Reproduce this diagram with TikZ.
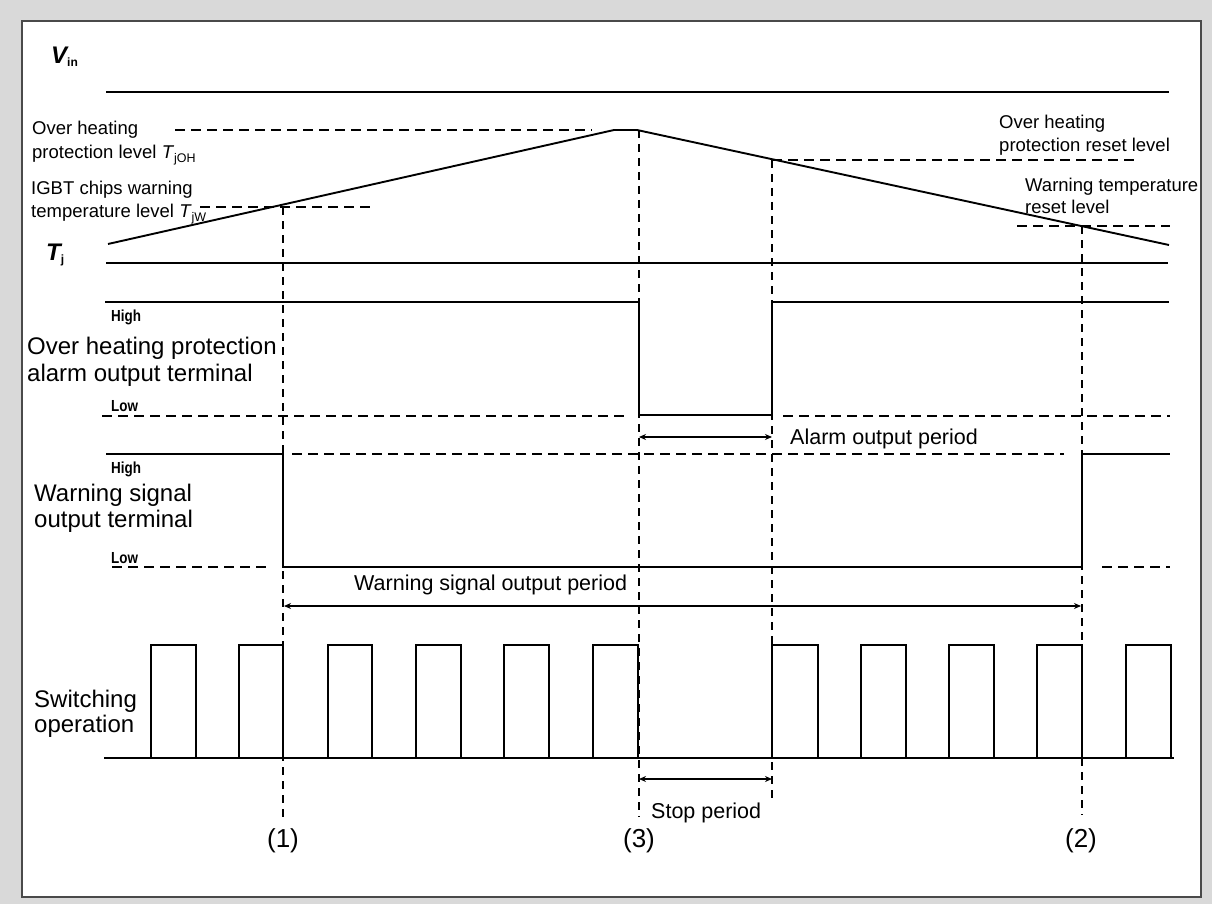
\documentclass[tikz,border=0pt]{standalone}
\usepackage{fontspec}
\usepackage{graphicx}
\setmainfont{Liberation Sans}
\usetikzlibrary{arrows.meta}
\definecolor{bggray}{HTML}{D9D9D9}
\definecolor{bordergray}{HTML}{4A4A4A}
\tikzset{
  sig/.style={line width=1.9pt, line join=miter},
  dsh/.style={line width=1.7pt, dash pattern=on 10pt off 6pt},
  vdsh/.style={line width=1.7pt, dash pattern=on 8pt off 6pt},
  dimarrow/.style={line width=1.1pt, {Stealth[length=7pt,width=6pt]}-{Stealth[length=7pt,width=6pt]}},
  txs/.style={font=\fontsize{18.5}{21}\selectfont, inner sep=0pt, anchor=base west},
  txm/.style={font=\fontsize{21.5}{25}\selectfont, inner sep=0pt, anchor=base west},
  txl/.style={font=\fontsize{24}{28}\selectfont, inner sep=0pt, anchor=base west},
  txn/.style={font=\fontsize{26}{30}\selectfont, inner sep=0pt, anchor=center},
  hl/.style={font=\bfseries\fontsize{16}{18}\selectfont, inner sep=0pt, anchor=base west},
  symlbl/.style={inner sep=0pt, anchor=base west, font=\bfseries\itshape\fontsize{24}{26}\selectfont},
}
\newcommand{\hlo}[1]{\scalebox{0.84}[1]{#1}}
\newcommand{\subtx}[1]{\raisebox{-4pt}{\fontsize{12.5}{13}\selectfont #1}}
\newcommand{\symsub}[1]{\raisebox{-3pt}{\upshape\fontsize{12}{13}\selectfont #1}}
\begin{document}
\begin{tikzpicture}[x=1pt,y=-1pt]
\useasboundingbox (0,0) rectangle (1212,904);
\fill[bggray] (0,0) rectangle (1212,904);
\draw[bordergray, line width=1.5pt, fill=white] (22,21) rectangle (1201,897);

% V_in
\node[symlbl] (vin) at (51,64) {V\symsub{in}};
\draw[sig] (106,92) -- (1169,92);

% Tj
\node[symlbl] (tj) at (46,260) {T\symsub{j}};
\draw[sig] (106,263) -- (1168,263);
\draw[sig] (108,244) -- (614,130) -- (637,130) -- (1169,245);
\draw[dsh] (175,130) -- (592,130);
\draw[dsh] (200,207) -- (372,207);
\draw[dsh] (772,160) -- (1136,160);
\draw[dsh] (1017,226) -- (1170,226);

\node[txs] (ohl1) at (32,135) {Over heating};
\node[txs] (ohl2) at (32,159) {protection level \textit{T}\subtx{jOH}};
\node[txs] (twl1) at (31,195) {IGBT chips warning};
\node[txs] (twl2) at (31,217) {temperature level \textit{T}\subtx{jW}};
\node[txs] (ohr1) at (999,129) {Over heating};
\node[txs] (ohr2) at (999,152) {protection reset level};
\node[txs] (wrr1) at (1025,192) {Warning temperature};
\node[txs] (wrr2) at (1025,214) {reset level};

% Over heating protection alarm output
\draw[sig] (105,302) -- (639,302) -- (639,415) -- (772,415) -- (772,302) -- (1169,302);
\draw[dsh] (102,416) -- (624,416);
\draw[dsh] (783,416) -- (1170,416);
\node[hl] (oh_high) at (111,321) {\hlo{High}};
\node[hl] (oh_low) at (111,411) {\hlo{Low}};
\node[txl] (ohlab1) at (27,354) {Over heating protection};
\node[txl] (ohlab2) at (27,381) {alarm output terminal};
\draw[dimarrow] (639,437) -- (772,437);
\node[txm] (alarmp) at (790,444) {Alarm output period};

% Warning signal output
\draw[sig] (106,454) -- (283,454) -- (283,567) -- (1082,567) -- (1082,454) -- (1170,454);
\draw[dsh] (292,454) -- (1064,454);
\draw[dsh] (112,567) -- (268,567);
\draw[dsh] (1102,567) -- (1170,567);
\node[hl] (w_high) at (111,473) {\hlo{High}};
\node[hl] (w_low) at (111,563) {\hlo{Low}};
\node[txl] (wlab1) at (34,501) {Warning signal};
\node[txl] (wlab2) at (34,527) {output terminal};
\draw[dimarrow] (284,606) -- (1081,606);
\node[txm] (warnp) at (354,590) {Warning signal output period};

% Switching operation
\draw[sig] (104,758) -- (1174,758);
\foreach \l/\r in {151/196, 239/283, 328/372, 416/461, 504/549, 593/638, 772/818, 861/906, 949/994, 1037/1082, 1126/1171}{
  \draw[sig] (\l,758) -- (\l,645) -- (\r,645) -- (\r,758);
}
\node[txl] (sw1) at (34,707) {Switching};
\node[txl] (sw2) at (34,732) {operation};
\draw[dimarrow] (639,779) -- (772,779);
\node[txm] (stopp) at (651,818) {Stop period};

% vertical markers
\draw[vdsh] (283,207) -- (283,822);
\draw[vdsh] (639,130) -- (639,817);
\draw[vdsh] (772,160) -- (772,800);
\draw[vdsh] (1082,226) -- (1082,815);
\node[txn] (m1) at (283,841) {(1)};
\node[txn] (m3) at (639,841) {(3)};
\node[txn] (m2) at (1081,841) {(2)};
\end{tikzpicture}
\end{document}
